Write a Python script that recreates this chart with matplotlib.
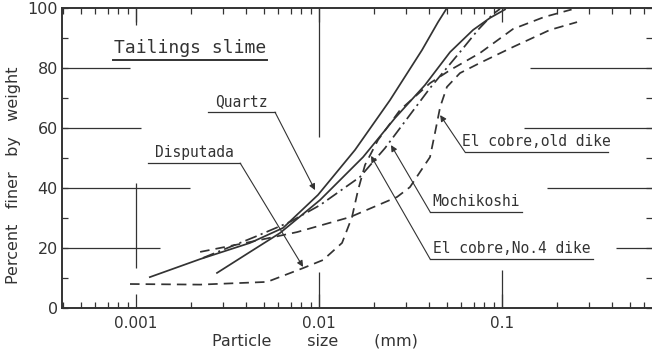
import matplotlib
matplotlib.use('Agg')
import matplotlib.pyplot as plt
import numpy as np

#### Grain size curves: particle size (mm), percent finer. ####
quartz_x = [0.00119, 0.00224, 0.0042, 0.00636, 0.00987, 0.01573, 0.02443, 0.03655, 0.0447, 0.0500]
quartz_y = [10.3, 16.3, 21.7, 26.7, 37.7, 52.7, 69.3, 86.0, 95.3, 100.0]

no4_x = [0.00277, 0.0042, 0.00612, 0.01013, 0.0174, 0.0260, 0.0379, 0.0520, 0.0695, 0.0860, 0.1038]
no4_y = [11.7, 18.7, 25.0, 36.0, 50.3, 63.3, 74.3, 85.3, 92.7, 96.7, 99.5]

mochi_x = [0.00232, 0.00458, 0.00694, 0.01013, 0.01675, 0.02294, 0.0404, 0.0589, 0.0739, 0.0893, 0.0975]
mochi_y = [16.7, 24.0, 28.7, 34.3, 43.7, 53.3, 73.3, 85.3, 92.7, 98.0, 99.7]

disp_x = [0.000927, 0.00224, 0.0052, 0.00818, 0.01052, 0.01336, 0.01514, 0.01634, 0.01784, 0.0210,
          0.02772, 0.0405, 0.0520, 0.0758, 0.1148, 0.170, 0.240]
disp_y = [8.0, 7.8, 8.7, 13.3, 16.0, 21.7, 30.3, 39.3, 47.7, 56.0,
          66.0, 75.0, 79.3, 85.0, 93.0, 97.0, 99.5]

oldd_x = [0.00224, 0.0042, 0.00758, 0.01477, 0.02668, 0.0314, 0.0356, 0.0404, 0.0430, 0.0459,
          0.0500, 0.0589, 0.0758, 0.1148, 0.1829, 0.257]
oldd_y = [18.7, 22.0, 25.3, 30.3, 37.0, 40.3, 45.3, 50.3, 58.3, 67.0,
          73.7, 78.3, 81.7, 87.0, 92.7, 95.3]

names = ["Quartz", "Disputada", "El cobre,old dike", "Mochikoshi", "El cobre,No.4 dike"]
# arrow tips on the curves (data), label anchors (axes fraction): leader start x, y, underline end x
tips = [(0.00951, 39.3), (0.00818, 13.7), (0.0459, 64.3), (0.02474, 54.3), (0.01924, 50.7)]
lab_pos = [(0.361, 0.653, 0.247), (0.302, 0.483, 0.146), (0.683, 0.520, 0.925),
           (0.624, 0.320, 0.780), (0.624, 0.163, 0.900)]

INK = "#333333"
MONO = "DejaVu Sans Mono"

fig = plt.figure(figsize=(6.52, 3.54), dpi=100, facecolor="white")
ax = fig.add_axes([0.0951, 0.1299, 0.9049, 0.8475])
ax.set_xscale('log')
ax.set_xlim(0.000394, 0.66)
ax.set_ylim(0, 100)

lw = 1.25
ax.plot(quartz_x, quartz_y, color=INK, lw=lw)
ax.plot(no4_x, no4_y, color=INK, lw=lw)
ax.plot(mochi_x, mochi_y, color=INK, lw=lw, dashes=(7, 2.5, 1.2, 2.5))
ax.plot(disp_x, disp_y, color=INK, lw=lw, dashes=(5.5, 3.5))
ax.plot(oldd_x, oldd_y, color=INK, lw=lw, dashes=(5.5, 3.5))

#### Partial guide lines printed on the original graph paper. ####
gl = dict(color=INK, lw=0.9)
ax.hlines([80, 60, 40, 20], 0.000394, [0.00093, 0.00107, 0.00197, 0.00135], **gl)
ax.hlines([80, 60, 40, 20], [0.142, 0.132, 0.176, 0.42], 0.66, **gl)
ax.vlines(0.001, 13.3, 41.7, **gl)
ax.vlines(0.001, 94.3, 100, **gl)
ax.vlines(0.01, 57, 100, **gl)
ax.vlines(0.01, 0, 12, **gl)
ax.vlines(0.1, 0, 12.7, **gl)

#### Axes, ticks. ####
for s in ['left', 'bottom', 'top']:
    ax.spines[s].set_color(INK)
    ax.spines[s].set_linewidth(1.4)
ax.spines['right'].set_visible(False)

ax.set_xticks([0.001, 0.01, 0.1])
ax.set_xticklabels(["0.001", "0.01", "0.1"])
ax.xaxis.set_minor_locator(matplotlib.ticker.LogLocator(base=10, subs=np.arange(2, 10), numticks=20))
ax.xaxis.set_minor_formatter(matplotlib.ticker.NullFormatter())
ax.set_yticks(np.arange(0, 101, 20))
ax.set_yticks(np.arange(10, 100, 20), minor=True)

ax.tick_params(which='both', direction='in', top=True, right=True, color=INK, width=0.9)
ax.tick_params(axis='x', which='major', length=10, labelsize=11, pad=6, labelcolor=INK)
ax.tick_params(axis='x', which='minor', length=4.5)
ax.tick_params(axis='y', which='major', length=4.5, labelsize=11.5, pad=3, labelcolor=INK)
ax.tick_params(axis='y', which='minor', length=4.5)

fig.text(0.021, 0.505, "Percent   finer   by   weight", rotation=90, ha='center', va='center',
         fontsize=11.5, color=INK)
fig.text(0.483, 0.038, "Particle       size       (mm)", ha='center', va='center',
         fontsize=11.5, color=INK)

#### Title and labels with leaders. ####
ax.text(0.218, 0.838, "Tailings slime", transform=ax.transAxes, ha='center', va='bottom',
        fontsize=13, color=INK, family=MONO)
ax.plot([0.086, 0.347], [0.827, 0.827], transform=ax.transAxes, color=INK, lw=1.4)

for name, tip, (fx, fy, fx2) in zip(names, tips, lab_pos):
    ax.text((fx + fx2) / 2, fy + 0.010, name, transform=ax.transAxes, ha='center', va='bottom',
            fontsize=10.5, color=INK, family=MONO)
    ax.plot([fx, fx2], [fy, fy], transform=ax.transAxes, color=INK, lw=0.9)
    ax.annotate('', xy=tip, xycoords='data', xytext=(fx, fy), textcoords='axes fraction',
                arrowprops=dict(arrowstyle='-|>', color=INK, lw=0.8, shrinkA=0, shrinkB=0,
                                mutation_scale=9))

plt.savefig("out.png", dpi=100, facecolor="white")
